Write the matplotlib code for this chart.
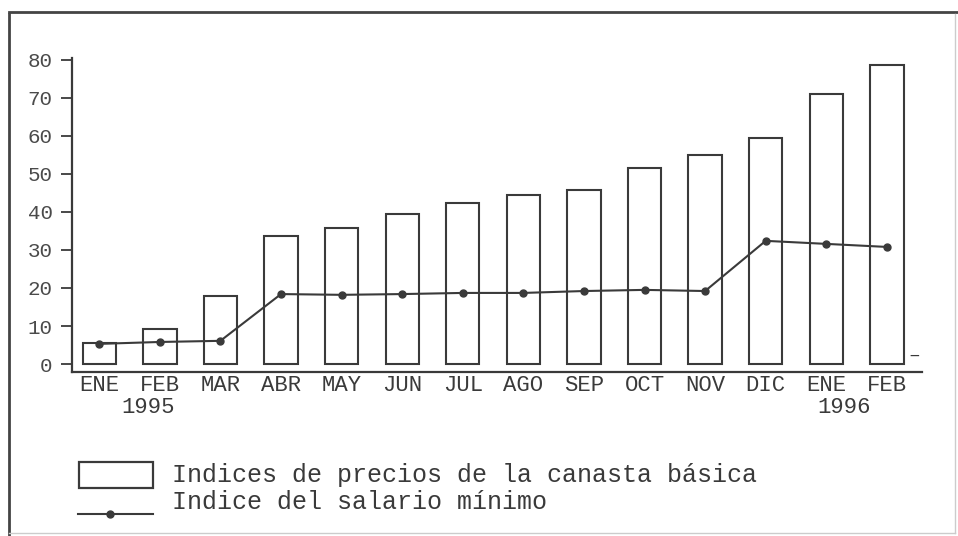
"""Indices de precios de la canasta basica vs salario minimo, 1995-1996."""
import matplotlib.pyplot as plt
from matplotlib.lines import Line2D
from matplotlib.patches import Rectangle

months = ["ENE", "FEB", "MAR", "ABR", "MAY", "JUN", "JUL",
          "AGO", "SEP", "OCT", "NOV", "DIC", "ENE", "FEB"]
canasta = [5.5, 9.2, 17.9, 33.7, 35.8, 39.5, 42.4,
           44.5, 45.8, 51.6, 55.0, 59.5, 71.0, 78.7]
salario = [5.3, 5.8, 6.1, 18.4, 18.2, 18.4, 18.7,
           18.7, 19.2, 19.5, 19.2, 32.4, 31.6, 30.8]
yticks = [0, 10, 20, 30, 40, 50, 60, 70, 80]
years = [(0.8, "1995"), (12.3, "1996")]
legend_labels = ["Indices de precios de la canasta básica",
                 "Indice del salario mínimo"]

INK = "#3a3a3a"
FONT = ["Liberation Mono", "DejaVu Sans Mono"]

plt.rcParams["font.family"] = FONT

fig = plt.figure(figsize=(9.58, 5.36), dpi=100)
W, H = 958, 536


def fx(px):
    return px / W


def fy(py):
    return 1 - py / H


ax = fig.add_axes([fx(72), fy(372), fx(922) - fx(72), fy(58) - fy(372)])
x = list(range(len(months)))

ax.bar(x, canasta, width=0.55, facecolor="white", edgecolor=INK, linewidth=1.5)
ax.plot(x, salario, color=INK, linewidth=1.5, marker="o", markersize=5)

ax.set_xlim(-0.45, 13.58)
ax.set_ylim(-2.1, 80.5)
ax.set_yticks(yticks)
ax.set_xticks(x)
ax.set_xticklabels(months, fontsize=16, color=INK)
ax.tick_params(axis="x", length=0, pad=2)
ax.tick_params(axis="y", length=8, width=1.3, color=INK, labelsize=15,
               labelcolor="#4a4a4a", pad=6)
for side in ("top", "right"):
    ax.spines[side].set_visible(False)
for side in ("left", "bottom"):
    ax.spines[side].set_color(INK)
    ax.spines[side].set_linewidth(1.6)

for xpos, yr in years:
    ax.text(xpos, -11.4, yr, ha="center", va="center", fontsize=16, color=INK)

# small dash at the right end of the axis
fig.text(fx(914), fy(355), "–", ha="center", va="center", fontsize=14, color=INK)

# manual legend
fig.add_artist(Rectangle((fx(79), fy(488)), fx(153) - fx(79), fy(462) - fy(488),
                         transform=fig.transFigure, facecolor="white",
                         edgecolor=INK, linewidth=1.6))
fig.add_artist(Line2D([fx(78), fx(110), fx(153)], [fy(514)] * 3, transform=fig.transFigure,
                      color=INK, linewidth=1.5, marker="o", markevery=[1],
                      markersize=5))
fig.text(fx(172), fy(475), legend_labels[0], ha="left", va="center",
         fontsize=18, color=INK)
fig.text(fx(172), fy(502), legend_labels[1], ha="left", va="center",
         fontsize=18, color=INK)

# page frame
fig.add_artist(Line2D([fx(9), fx(9)], [fy(14), fy(536)], transform=fig.transFigure,
                      color="#444444", linewidth=2))
fig.add_artist(Line2D([fx(9), fx(958)], [fy(12), fy(12)], transform=fig.transFigure,
                      color="#444444", linewidth=2))
fig.add_artist(Line2D([fx(955), fx(955)], [fy(14), fy(533)], transform=fig.transFigure,
                      color="#cccccc", linewidth=1))
fig.add_artist(Line2D([fx(9), fx(955)], [fy(533), fy(533)], transform=fig.transFigure,
                      color="#cccccc", linewidth=1))

fig.savefig("out.png", dpi=100)
